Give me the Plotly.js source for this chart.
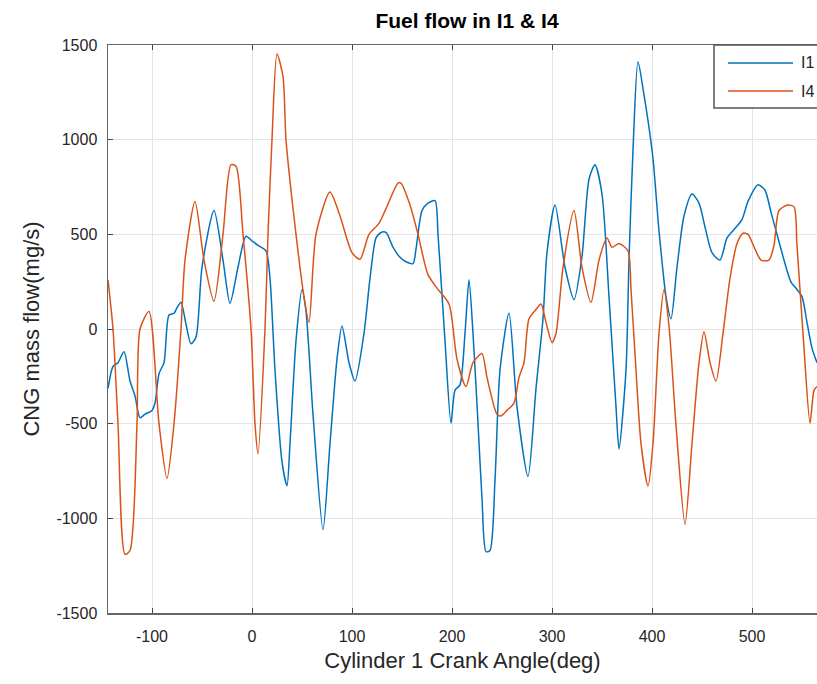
<!DOCTYPE html>
<html>
<head>
<meta charset="utf-8">
<script src="https://cdn.plot.ly/plotly-3.0.1.min.js"></script>
<style>html,body{margin:0;padding:0;background:#fff;}#chart{width:817px;height:684px;}</style>
</head>
<body>
<div id="chart"></div>
<script>
// Crank angle (deg) and CNG mass flow (mg/s)
const i1Angle = [-144,-139,-134,-128,-122,-117,-112,-107,-100,-97,-93,-88,-83,-78,-75,-71,-66,-61,-56,-50,-38,-29,-22,-14,-6,1,6,14,18,23,30,35,38,44,50,54,61,71,78,85,90,97,103,112,118,124,129,134,141,147,154,161,164,170,176,183,186,193,199,203,208,213,217,221,226,230,234,238,243,248,257,265,276,284,291,295,303,313,322,330,337,343,350,357,364,367,374,377,381,386,392,396,401,407,414,419,425,432,440,447,453,460,468,475,481,490,496,506,513,519,526,532,539,545,550,555,560,565];
const i1Flow  = [-314,-198,-178,-120,-275,-353,-469,-450,-430,-391,-236,-178,74,83,112,141,25,-78,-43,326,626,364,136,326,490,461,442,413,267,-217,-702,-828,-605,-62,209,93,-450,-1060,-605,-159,16,-178,-275,-23,267,481,510,510,432,384,355,345,422,626,665,678,500,-62,-498,-324,-295,-23,260,-23,-498,-895,-1176,-1170,-798,-217,83,-411,-779,-314,54,403,655,326,155,384,791,868,713,171,-411,-634,-217,364,946,1411,1236,1100,900,519,171,54,326,597,713,665,539,403,364,481,519,578,674,762,733,616,481,364,248,209,171,35,-101,-178];

const i4Angle = [-144,-139,-134,-127,-122,-115,-112,-103,-93,-85,-78,-71,-67,-57,-48,-38,-29,-21,-16,-9,-1,3,6,13,16,20,25,31,34,44,52,57,64,78,88,100,108,117,127,134,146,149,158,166,176,186,197,205,214,221,230,235,245,249,255,262,267,272,277,284,289,294,300,304,311,322,330,339,347,355,360,367,376,379,384,389,396,401,407,412,417,424,433,440,447,452,458,464,471,478,485,491,496,503,509,517,522,527,536,542,545,552,558,562,565];
const i4Flow  = [258,0,-500,-1190,-1170,-500,0,93,-500,-789,-500,0,364,674,364,147,500,868,860,500,0,-500,-659,0,500,1000,1453,1333,1000,500,170,35,500,723,597,403,368,500,558,636,771,771,655,500,287,209,132,-159,-304,-178,-130,-256,-450,-459,-430,-391,-256,-178,54,103,132,35,-72,-23,326,626,326,141,364,481,432,451,413,209,-217,-605,-830,-605,-23,209,16,-508,-1031,-605,-178,-14,-178,-275,-23,267,451,506,500,422,364,364,442,626,655,645,442,-101,-498,-324,-304];

const seriesNames = ['I1', 'I4'];
const xTicks = [-100, 0, 100, 200, 300, 400, 500];
const yTicks = [-1500, -1000, -500, 0, 500, 1000, 1500];

const colors = ['#0072BD', '#D95319'];
const font = 'Liberation Sans, Arial, sans-serif';

const traces = [
  {x: i1Angle, y: i1Flow, name: seriesNames[0], type: 'scatter', mode: 'lines',
   line: {color: colors[0], width: 1.5, shape: 'spline', smoothing: 0.7}},
  {x: i4Angle, y: i4Flow, name: seriesNames[1], type: 'scatter', mode: 'lines',
   line: {color: colors[1], width: 1.5, shape: 'spline', smoothing: 0.7}}
];

// plot area in pixels
const L = 108, T = 45, B = 613, R = 817;
const px = v => (v - L) / (R - L);
const py = v => (B - v) / (B - T);

const legendShapes = [
  {type: 'rect', xref: 'paper', yref: 'paper', x0: px(714), x1: px(840), y0: py(108), y1: py(45),
   fillcolor: '#ffffff', line: {color: '#555', width: 1.5}},
  {type: 'line', xref: 'paper', yref: 'paper', x0: px(728), x1: px(793), y0: py(63), y1: py(63),
   line: {color: colors[0], width: 1.5}},
  {type: 'line', xref: 'paper', yref: 'paper', x0: px(728), x1: px(793), y0: py(91), y1: py(91),
   line: {color: colors[1], width: 1.5}}
];
const legendTexts = seriesNames.map((n, k) => ({
  xref: 'paper', yref: 'paper', x: px(799), y: py(k === 0 ? 63 : 91), xanchor: 'left', yanchor: 'middle',
  text: n, showarrow: false, font: {family: font, size: 16, color: '#262626'}
}));

const layout = {
  width: 817, height: 684,
  margin: {l: L, r: 817 - R, t: T, b: 684 - B, pad: 0},
  paper_bgcolor: '#ffffff', plot_bgcolor: '#ffffff',
  showlegend: false,
  title: {text: '<b>Fuel flow in I1 &amp; I4</b>', xref: 'paper', x: px(467), xanchor: 'center',
          yref: 'container', y: 1 - 21 / 684, yanchor: 'middle',
          font: {family: font, size: 21, color: '#000'}},
  xaxis: {range: [-144, 565], tickvals: xTicks, ticktext: xTicks.map(String),
          ticks: 'inside', ticklen: 5, tickcolor: '#444', tickwidth: 1,
          showline: true, linecolor: '#666', linewidth: 1.5, mirror: 'ticks',
          showgrid: true, gridcolor: '#e4e4e4', gridwidth: 1, zeroline: false,
          tickfont: {family: font, size: 16, color: '#262626'}, ticklabelstandoff: 8,
          title: {text: 'Cylinder 1 Crank Angle(deg)', font: {family: font, size: 22, color: '#262626'}, standoff: 9}},
  yaxis: {range: [-1500, 1500], tickvals: yTicks, ticktext: yTicks.map(String),
          ticks: 'inside', ticklen: 5, tickcolor: '#444', tickwidth: 1,
          showline: true, linecolor: '#666', linewidth: 1.5, mirror: false,
          showgrid: true, gridcolor: '#e4e4e4', gridwidth: 1, zeroline: false,
          tickfont: {family: font, size: 16, color: '#262626'}, ticklabelstandoff: 6,
          title: {text: 'CNG mass flow(mg/s)', font: {family: font, size: 22, color: '#262626'}, standoff: 10}},
  shapes: legendShapes,
  annotations: legendTexts
};

Plotly.newPlot('chart', traces, layout, {displayModeBar: false, staticPlot: true});
</script>
</body>
</html>
